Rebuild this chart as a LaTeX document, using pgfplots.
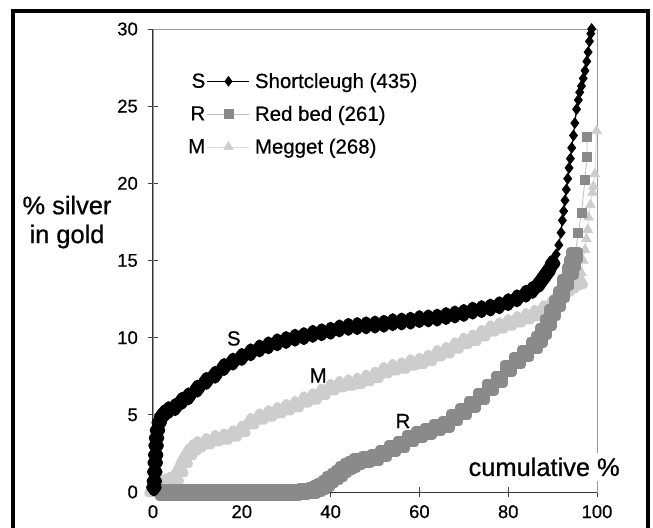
\documentclass[border=0pt]{standalone}
\usepackage{fontspec}
\setmainfont{Liberation Sans}[FakeBold=0.6]
\usepackage{pgfplots}
\pgfplotsset{compat=1.18}

\definecolor{rcol}{HTML}{8A8A8A}
\definecolor{rline}{HTML}{BDBDBD}
\definecolor{mcol}{HTML}{CDCDCD}
\definecolor{mline}{HTML}{DCDCDC}
\definecolor{axgray}{HTML}{9A9A9A}

\pgfplotsset{
  legS/.style={legend image code/.code={
    \node[anchor=east,inner sep=0pt,font=\fontsize{20.5}{24}\selectfont] at (-2bp,0bp) {S};
    \draw[black,line width=1bp] (0bp,0bp) -- (42bp,0bp);
    \draw[black,mark=diamond*,mark size=5bp] plot coordinates {(21bp,0bp)};
  }},
  legR/.style={legend image code/.code={
    \node[anchor=east,inner sep=0pt,font=\fontsize{20.5}{24}\selectfont] at (-2bp,0bp) {R};
    \draw[rline,line width=0.8bp] (0bp,0bp) -- (42bp,0bp);
    \draw[rcol,mark=square*,mark size=4.5bp] plot coordinates {(21bp,0bp)};
  }},
  legM/.style={legend image code/.code={
    \node[anchor=east,inner sep=0pt,font=\fontsize{20.5}{24}\selectfont] at (-2bp,0bp) {M};
    \draw[mline,line width=0.8bp] (0bp,0bp) -- (42bp,0bp);
    \draw[mcol,mark=triangle*,mark size=5.5bp] plot coordinates {(21bp,0bp)};
  }},
}

\begin{document}
\begin{tikzpicture}
\begin{axis}[
  scale only axis,
  width=444bp, height=463bp,
  xmin=0, xmax=100, ymin=0, ymax=30,
  xtick={0,20,...,100}, ytick={0,5,...,30},
  tick pos=left, tick align=center,
  major tick length=10bp,
  axis line style={draw=axgray, line width=0.8bp},
  tick style={draw=black!75, line width=0.8bp},
  ticklabel style={font=\fontsize{18.5}{20}\selectfont, inner sep=0pt},
  xticklabel style={anchor=north, yshift=-8bp},
  yticklabel style={anchor=east, xshift=-10bp},
  /pgf/number format/assume math mode=true,
  clip=false,
  xlabel={cumulative \%},
  every axis x label/.style={at={(axis description cs:0.881,0.0346)}, anchor=base,
    fill=white, inner xsep=2bp, inner ysep=5bp, font=\fontsize{25.5}{29}\selectfont},
  ylabel={\% silver\\in gold},
  every axis y label/.style={at={(axis description cs:0,0.583)}, anchor=center,
    xshift=-86bp, align=center, font=\fontsize{25.5}{29}\selectfont},
  legend style={at={(axis description cs:0.079,0.905)}, anchor=north west,
    draw=none, fill=none, font=\fontsize{20.5}{24}\selectfont,
    row sep=16.5bp, column sep=5bp, inner sep=0pt,
    nodes={inner sep=0pt}},
  legend cell align=left,
]
\draw[black!80, line width=1bp] (axis cs:0,0) -- (axis cs:0,30);
\draw[black!80, line width=1bp] (axis cs:0,0) -- (axis cs:100,0);

% Megget (268)
\addplot[forget plot, mcol, line width=8bp, line cap=round, line join=round,
  mark=triangle*, mark size=5.5bp] coordinates {
(0,0.1) (1,0.3) (2,0.5) (3,0.6) (4,0.7) (5,0.9) (6,1.4) (7,2.0) (8,2.5) (9,2.8)
(10,3.0) (12,3.2) (14,3.4) (16,3.5) (18,3.7) (20,4.0) (22,4.5) (24,4.8) (26,5.0)
(28,5.2) (30,5.4) (32,5.6) (34,5.9) (36,6.1) (38,6.4) (40,6.7) (42,6.9) (44,7.0)
(46,7.1) (48,7.3) (50,7.5) (52,7.8) (54,8.0) (56,8.1) (58,8.3) (60,8.4) (62,8.6)
(64,8.9) (66,9.1) (68,9.4) (70,9.7) (72,9.9) (74,10.2) (76,10.5) (78,10.7)
(80,10.9) (82,11.1) (84,11.3) (86,11.5) (88,11.8) (90,12.2) (91,12.5) (92,12.8)
(93,13.1) (94,13.3) (95,13.5) (96,13.6)
};
\addplot[forget plot, mline, line width=0.8bp, mark=triangle*, mark size=5.5bp,
  mark options={mcol}] coordinates {
(96,13.6) (96.5,14.2) (96.9,15.0) (97.3,15.7) (97.6,16.4) (97.9,17.0) (98.1,17.8)
(98.5,18.6) (99.0,19.4) (99.2,19.8) (99.5,20.6) (99.9,23.4)
};

% Red bed (261)
\addplot[forget plot, rcol, line width=8bp, line cap=round, line join=round,
  mark=square*, mark size=4.5bp] coordinates {
(2.3,0) (4,0) (6,0) (8,0) (10,0) (12,0) (14,0) (16,0) (18,0) (20,0) (22,0) (24,0)
(26,0) (28,0) (30,0) (32,0) (34,0.05) (36,0.1) (37,0.2) (38,0.35) (39,0.55)
(40,0.8) (41,1.0) (42,1.2) (43,1.45) (44,1.65) (45,1.8) (46,1.95) (48,2.1)
(50,2.25) (52,2.5) (54,2.8) (56,3.1) (58,3.45) (60,3.7) (62,3.95) (64,4.2) (66,4.4)
(68,4.8) (70,5.2) (72,5.7) (74,6.2) (76,6.8) (78,7.3) (80,8.0) (82,8.5) (84,9.0)
(86,9.5) (87,9.9) (88,10.4) (89,11.0) (90,11.6) (91,12.2) (92,12.8) (93,13.6)
(94,14.3) (94.5,14.8) (95,15.3)
};
\addplot[forget plot, rline, line width=0.8bp, mark=square*, mark size=4.5bp,
  mark options={rcol}] coordinates {
(95,15.3) (95.8,16.8) (96.5,18.1) (97.3,20.2) (97.7,21.7) (97.8,23.0)
};

% Shortcleugh (435)
\addplot[forget plot, black, line width=8bp, line cap=round, line join=round,
  mark=diamond*, mark size=5bp] coordinates {
(0.2,0.3) (0.3,0.7) (0.4,1.3) (0.5,1.9) (0.6,2.4) (0.7,3.0) (0.8,3.5) (1.0,4.0)
(1.4,4.5) (2.0,4.9) (2.6,5.1) (3.5,5.3) (5,5.5) (6.5,5.9) (8,6.2) (10,6.7)
(12,7.2) (14,7.6) (16,8.1) (18,8.45) (20,8.75) (22,9.05) (24,9.3) (26,9.5)
(28,9.7) (30,9.85) (32,10.0) (34,10.1) (36,10.25) (38,10.35) (40,10.45)
(42,10.6) (44,10.7) (46,10.75) (48,10.8) (50,10.85) (52,10.9) (54,11.0)
(56,11.05) (58,11.1) (60,11.2) (62,11.25) (64,11.3) (66,11.4) (68,11.5)
(70,11.6) (72,11.75) (74,11.85) (76,11.95) (78,12.1) (80,12.3) (82,12.55)
(84,12.85) (85.5,13.1) (87,13.5) (88,13.9) (89,14.3) (90,14.8)
};
\addplot[forget plot, black, line width=1.2bp, mark=diamond*, mark size=5bp]
  coordinates {
(90,14.8) (90.8,15.4) (91.4,16.0) (91.9,16.8) (92.2,17.6) (92.5,18.2) (92.8,18.9)
(93.1,19.6) (93.4,20.3) (93.7,21.0) (94.0,21.6) (94.3,22.3) (94.7,23.1)
(95.0,23.9) (95.4,24.8) (95.8,25.4) (96.1,25.9) (96.5,26.3) (96.9,26.8)
(97.3,27.3) (97.7,27.9) (98.0,28.5) (98.3,29.2) (98.6,29.7) (98.8,30.0)
};

% curve labels
\node[font=\fontsize{20.5}{24}\selectfont, inner sep=0pt] at (axis cs:18.2,9.95) {S};
\node[font=\fontsize{20.5}{24}\selectfont, inner sep=0pt] at (axis cs:37.2,7.55) {M};
\node[font=\fontsize{20.5}{24}\selectfont, inner sep=0pt] at (axis cs:56.3,4.6) {R};

\addlegendimage{legS}
\addlegendentry{Shortcleugh (435)}
\addlegendimage{legR}
\addlegendentry{Red bed (261)}
\addlegendimage{legM}
\addlegendentry{Megget (268)}
\end{axis}
\draw[black, line width=3.5bp] (-140bp,-60bp) -- (-140bp,481bp) -- (495bp,481bp) -- (495bp,-60bp);
\pgfresetboundingbox
\path[use as bounding box] (-153bp,-36bp) rectangle (500bp,492bp);
\end{tikzpicture}
\end{document}
